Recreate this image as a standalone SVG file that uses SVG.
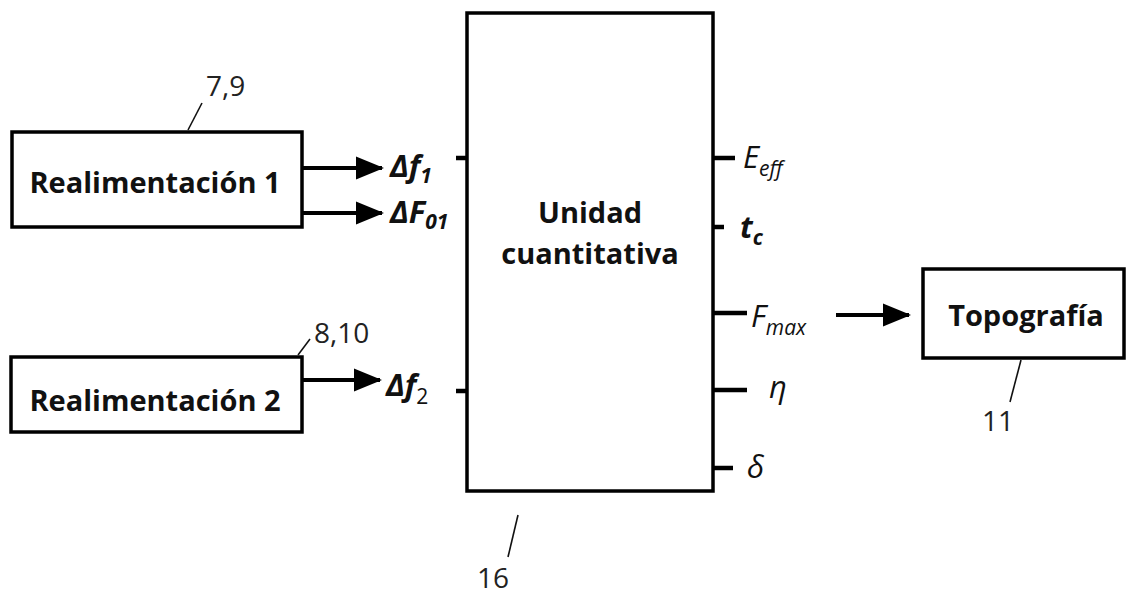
<svg xmlns="http://www.w3.org/2000/svg" width="1126" height="594" viewBox="0 0 1126 594">
<defs>
<marker id="ah" markerWidth="7" markerHeight="7" refX="6.5" refY="3.5" orient="auto" markerUnits="strokeWidth">
<path d="M0,0.6 L7,3.5 L0,6.4 Z" fill="#000"/>
</marker>
<style>
.box{fill:#fff;stroke:#000;stroke-width:3.5}
.lbl{font-family:"Open Sans","Liberation Sans",sans-serif;font-weight:700;font-size:29px;fill:#111}
.num{font-family:"Open Sans","Liberation Sans",sans-serif;font-size:28px;fill:#222}
.lead{stroke:#111;stroke-width:1.6;fill:none}
.arr{stroke:#000;stroke-width:4;fill:none}
.tick{stroke:#000;stroke-width:4.5;fill:none}
.var{font-family:"Open Sans","Liberation Sans",sans-serif;font-style:italic;font-size:31px;fill:#111}
.b{font-weight:700}
.sub{font-size:21px}
</style>
</defs>
<rect width="1126" height="594" fill="#fff"/>

<g id="realimentacion1">
<rect class="box" x="12" y="132" width="290" height="95"/>
<text class="lbl" x="155" y="193" text-anchor="middle">Realimentación 1</text>
<line class="lead" x1="188" y1="130" x2="202" y2="103"/>
<text class="num" x="206" y="96">7,9</text>
</g>

<g id="realimentacion2">
<rect class="box" x="11" y="357" width="291" height="75"/>
<text class="lbl" x="155" y="411" text-anchor="middle">Realimentación 2</text>
<line class="lead" x1="298" y1="355" x2="310" y2="339"/>
<text class="num" x="314" y="343">8,10</text>
</g>

<g id="unidad">
<rect class="box" x="467" y="13" width="246" height="478"/>
<text class="lbl" x="590" y="223" text-anchor="middle">Unidad</text>
<text class="lbl" x="590" y="264" text-anchor="middle">cuantitativa</text>
<line class="lead" x1="518" y1="515" x2="508" y2="557"/>
<text class="num" x="477" y="588">16</text>
</g>

<g id="topografia">
<rect class="box" x="923" y="269" width="201" height="89"/>
<text class="lbl" x="1026" y="326" text-anchor="middle">Topografía</text>
<line class="lead" x1="1021" y1="360" x2="1010" y2="402"/>
<text class="num" x="982" y="431">11</text>
</g>

<g id="labels">
<text class="var b" x="390" y="177">Δf<tspan class="sub" dy="6">1</tspan></text>
<text class="var b" x="390" y="223">ΔF<tspan class="sub" dy="6">01</tspan></text>
<text class="var b" x="386" y="396">Δf<tspan class="sub" dy="8" style="font-style:normal;font-weight:400">2</tspan></text>
<text class="var" x="743" y="168">E<tspan class="sub" dy="8">eff</tspan></text>
<text class="var b" x="740" y="238">t<tspan class="sub" dy="7">c</tspan></text>
<text class="var" x="751" y="327">F<tspan class="sub" dy="8">max</tspan></text>
<text class="var" x="769" y="398">η</text>
<text class="var" x="747" y="478">δ</text>
</g>

<g id="connectors">
<line class="arr" x1="302" y1="168" x2="382" y2="168" marker-end="url(#ah)"/>
<line class="arr" x1="302" y1="213" x2="382" y2="213" marker-end="url(#ah)"/>
<line class="arr" x1="302" y1="380" x2="380" y2="380" marker-end="url(#ah)"/>
<line class="arr" x1="836" y1="315" x2="909" y2="315" marker-end="url(#ah)"/>
<line class="tick" x1="456" y1="158" x2="467" y2="158"/>
<line class="tick" x1="456" y1="391" x2="467" y2="391"/>
<line class="tick" x1="713" y1="158" x2="735" y2="158"/>
<line class="tick" x1="713" y1="227" x2="724" y2="227"/>
<line class="tick" x1="713" y1="313" x2="747" y2="313"/>
<line class="tick" x1="713" y1="390" x2="747" y2="390"/>
<line class="tick" x1="713" y1="468" x2="733" y2="468"/>
</g>
</svg>
